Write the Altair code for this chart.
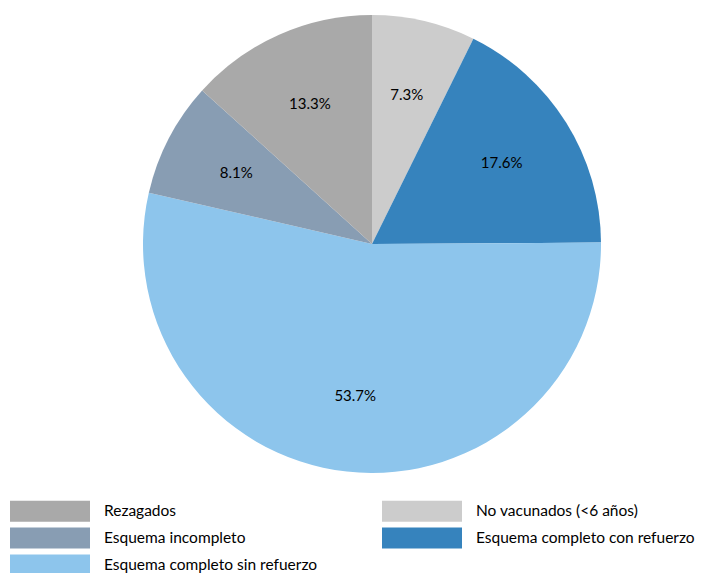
import altair as alt
import pandas as pd

categories = ["No vacunados (<6 años)", "Esquema completo con refuerzo",
              "Esquema completo sin refuerzo", "Esquema incompleto", "Rezagados"]
values = [7.3, 17.6, 53.7, 8.1, 13.3]
slice_order = [1, 2, 3, 4, 5]
labels = ["7.3%", "17.6%", "53.7%", "8.1%", "13.3%"]

legend_order = ["Rezagados", "No vacunados (<6 años)", "Esquema incompleto",
                "Esquema completo con refuerzo", "Esquema completo sin refuerzo"]
legend_colors = ["#A9A9A9", "#CCCCCC", "#889DB3", "#3683BD", "#8DC5EC"]

df = pd.DataFrame({"cat": categories, "val": values, "ord": slice_order, "lab": labels})

FONT = "Lato"

color = alt.Color("cat:N", scale=alt.Scale(domain=legend_order, range=legend_colors),
                  legend=alt.Legend(
                      title=None, orient="none", legendX=32, legendY=493,
                      columns=2, direction="horizontal", padding=0,
                      symbolType="M-4,-1.05H4V1.05H-4Z", symbolSize=400,
                      symbolStrokeWidth=0, symbolOpacity=1,
                      labelFont=FONT, labelFontSize=15.5, labelColor="#000000",
                      labelOffset=44, rowPadding=5, columnPadding=64,
                      labelLimit=400))

base = alt.Chart(df).encode(
    theta=alt.Theta("val:Q", stack=True),
    order=alt.Order("ord:Q"),
)

arcs = base.mark_arc(radius=229, strokeWidth=0).encode(
    color=color, x=alt.value(364), y=alt.value(236))

text = base.mark_text(radius=153, font=FONT, fontSize=15, color="#000000").encode(
    text="lab:N", x=alt.value(364), y=alt.value(236))

chart = (arcs + text).properties(
    width=687, height=565,
    autosize=alt.AutoSizeParams(type="none"),
    padding=0,
    background="#ffffff",
).configure_view(stroke=None)

chart.save("out.html", embed_options={"renderer": "svg", "actions": False})
